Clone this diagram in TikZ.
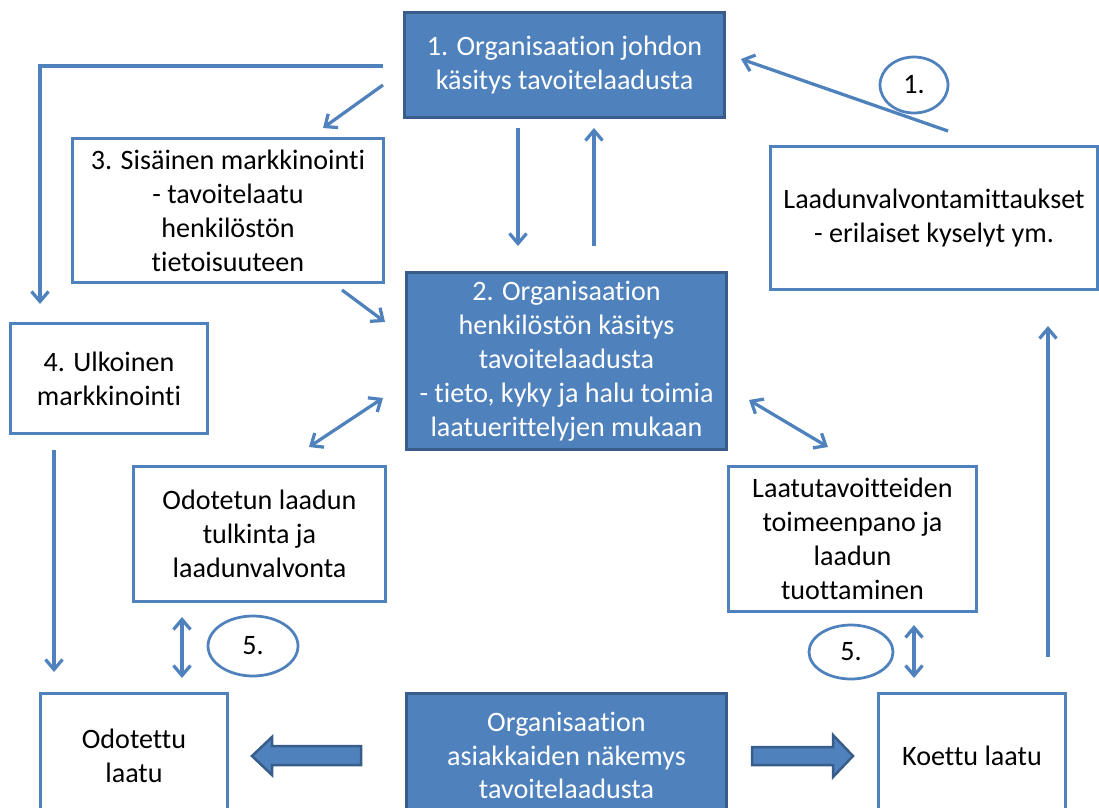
\documentclass[tikz,border=0pt]{standalone}
\usepackage{fontspec}
\setmainfont{Carlito}[Ligatures=NoCommon]
\usetikzlibrary{arrows.meta,shapes.geometric}
\definecolor{acc}{HTML}{4F81BD}
\definecolor{accd}{HTML}{385D8A}
\begin{document}
\begin{tikzpicture}[x=0.02cm,y=-0.02cm,
  txt/.style={font=\fontsize{16}{19.3}\selectfont, align=center, inner sep=0pt, outer sep=0pt},
  wbox/.style={txt, draw=acc, line width=0.06cm, fill=white},
  fbox/.style={txt, draw=accd, line width=0.06cm, fill=acc, text=white},
  oval/.style={txt, ellipse, draw=acc, line width=0.055cm},
  conn/.style={draw=acc, line width=0.065cm, -{Straight Barb[length=0.2cm,width=0.34cm]}},
  dconn/.style={draw=acc, line width=0.065cm, {Straight Barb[length=0.2cm,width=0.34cm]}-{Straight Barb[length=0.2cm,width=0.34cm]}},
  blk/.style={fill=acc, draw=accd, line width=0.05cm, line join=miter}
]
\useasboundingbox (0,0) rectangle (1099,808);

\node[fbox, minimum width=6.42cm, minimum height=2.12cm] (b1) at (564.5,65) {1. Organisaation johdon\\käsitys tavoitelaadusta};
\node[wbox, minimum width=6.24cm, minimum height=2.9cm] (b3) at (228,210.5) {3. Sisäinen markkinointi\\- tavoitelaatu\\henkilöstön\\tietoisuuteen};
\node[fbox, minimum width=6.42cm, minimum height=3.56cm] (b2) at (566.5,361) {2. Organisaation\\henkilöstön käsitys\\tavoitelaadusta\\- tieto, kyky ja halu toimia\\laatuerittelyjen mukaan};
\node[wbox, minimum width=6.56cm, minimum height=2.88cm] (bL) at (934,218) {Laadunvalvontamittaukset\\- erilaiset kyselyt ym.};
\node[wbox, minimum width=3.96cm, minimum height=2.22cm] (b4) at (109,378.5) {4. Ulkoinen\\markkinointi};
\node[wbox, minimum width=5.06cm, minimum height=2.72cm] (bO) at (259.5,534) {Odotetun laadun\\tulkinta ja\\laadunvalvonta};
\node[wbox, minimum width=4.98cm, minimum height=2.92cm] (bT) at (852.5,539) {Laatutavoitteiden\\toimeenpano ja\\laadun\\tuottaminen};
\node[wbox, minimum width=3.76cm, minimum height=2.5cm] (bE) at (134,755.5) {Odotettu\\laatu};
\node[fbox, minimum width=6.42cm, minimum height=2.5cm] (bA) at (566.5,755.5) {Organisaation\\asiakkaiden näkemys\\tavoitelaadusta};
\node[wbox, minimum width=3.76cm, minimum height=2.5cm] (bK) at (972,755.5) {Koettu laatu};

\node[oval, minimum width=1.36cm, minimum height=1.12cm] (e1) at (914,85) {1.};
\node[oval, minimum width=1.8cm, minimum height=1.2cm] (e5a) at (253,646) {5.};
\node[oval, minimum width=1.68cm, minimum height=1.08cm] (e5b) at (851,652) {5.};

% connector end points
\coordinate (a1s) at (383,66);  \coordinate (a1c) at (40,66);  \coordinate (a1e) at (40,304);
\coordinate (a2s) at (383,85);  \coordinate (a2e) at (323,128);
\coordinate (a3s) at (342,290); \coordinate (a3e) at (385,322);
\coordinate (a4s) at (518,128); \coordinate (a4e) at (518,246);
\coordinate (a5s) at (594,246); \coordinate (a5e) at (594,128);
\coordinate (a6s) at (948,131); \coordinate (a6e) at (741,59);
\coordinate (a7s) at (1048,657);\coordinate (a7e) at (1048,326);
\coordinate (a8s) at (309,447); \coordinate (a8e) at (383,398);
\coordinate (a9s) at (749,400); \coordinate (a9e) at (828,447);
\coordinate (a10s) at (54,450); \coordinate (a10e) at (54,672);
\coordinate (a11s) at (182,617);\coordinate (a11e) at (182,678);
\coordinate (a12s) at (914,625);\coordinate (a12e) at (914,678);

\draw[conn] (a1s) -- (a1c) -- (a1e);
\draw[conn] (a2s) -- (a2e);
\draw[conn] (a3s) -- (a3e);
\draw[conn] (a4s) -- (a4e);
\draw[conn] (a5s) -- (a5e);
\draw[conn] (a6s) -- (a6e);
\draw[conn] (a7s) -- (a7e);
\draw[dconn] (a8s) -- (a8e);
\draw[dconn] (a9s) -- (a9e);
\draw[conn] (a10s) -- (a10e);
\draw[dconn] (a11s) -- (a11e);
\draw[dconn] (a12s) -- (a12e);

% block arrows
\draw[blk] (361,746) -- (272,746) -- (272,737) -- (252,756) -- (272,775) -- (272,765) -- (361,765) -- cycle;
\draw[blk] (752,747) -- (833,747) -- (833,735) -- (853,756) -- (833,777) -- (833,765) -- (752,765) -- cycle;
\end{tikzpicture}
\end{document}
